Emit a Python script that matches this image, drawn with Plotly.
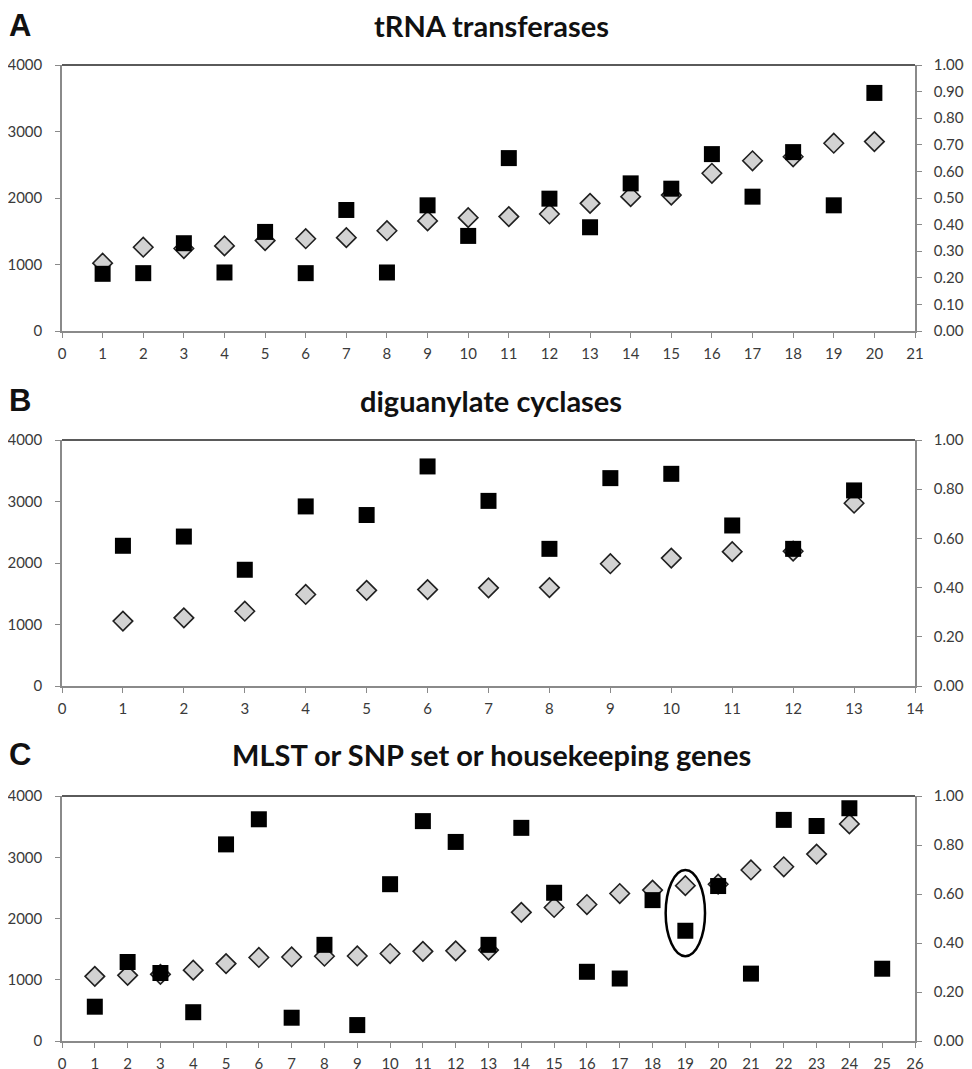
import plotly.graph_objects as go
from plotly.subplots import make_subplots

# ---- Data ----
titles = ["tRNA transferases", "diguanylate cyclases", "MLST or SNP set or housekeeping genes"]
letters = ["A", "B", "C"]

a_x = list(range(1, 21))
a_squares = [860, 870, 1320, 880, 1490, 870, 1820, 880, 1890, 1430,
             2600, 1990, 1560, 2220, 2140, 2660, 2020, 2690, 1890, 3580]
a_diamonds = [0.255, 0.315, 0.310, 0.320, 0.340, 0.347, 0.351, 0.377, 0.414, 0.426,
              0.430, 0.440, 0.480, 0.505, 0.511, 0.593, 0.640, 0.655, 0.706, 0.712]

b_x = list(range(1, 14))
b_squares = [2280, 2430, 1890, 2920, 2780, 3570, 3010, 2230, 3380, 3450, 2610, 2230, 3180]
b_diamonds = [0.264, 0.277, 0.304, 0.372, 0.389, 0.392, 0.399, 0.400, 0.497, 0.520,
              0.546, 0.548, 0.743]

c_x = list(range(1, 26))
c_squares = [560, 1290, 1110, 470, 3210, 3620, 380, 1570, 260, 2560, 3590, 3250, 1570,
             3480, 2420, 1130, 1020, 2300, 1800, 2530, 1100, 3610, 3510, 3800, 1180]
c_diamonds = [0.264, 0.268, 0.272, 0.289, 0.316, 0.341, 0.343, 0.346, 0.347, 0.357,
              0.366, 0.368, 0.371, 0.525, 0.545, 0.557, 0.602, 0.616, 0.634, 0.640,
              0.698, 0.711, 0.763, 0.886, None]

x_max = [21, 14, 26]
right_dtick = [0.1, 0.2, 0.2]
highlight_point = 19  # circled point in panel C

panels = [(a_x, a_squares, a_diamonds), (b_x, b_squares, b_diamonds), (c_x, c_squares, c_diamonds)]

# ---- Layout geometry (pixels; page body has an 8px margin) ----
OFF = 8
W, H = 972 - OFF, 1069 - OFF
ML = 62 - OFF
PLOT_RIGHT = 915 - OFF
MR = W - PLOT_RIGHT
PW = W - ML - MR
plot_tops = [65 - OFF, 440 - OFF, 796 - OFF]
plot_bottoms = [331 - OFF, 686 - OFF, 1041 - OFF]
title_y = [25 - OFF, 400 - OFF, 754 - OFF]

fig = make_subplots(rows=3, cols=1, specs=[[{"secondary_y": True}]] * 3)

AX_COLOR = "#8a8a8a"
TXT_COLOR = "#3a3a3a"
FONT = "Lato"

for i, (xs, sq, di) in enumerate(panels):
    r = i + 1
    fig.add_trace(go.Scatter(x=xs, y=di, mode="markers", showlegend=False,
                             marker=dict(symbol="diamond", size=15, color="#d2d2d2",
                                         line=dict(color="#202020", width=1.6))),
                  row=r, col=1, secondary_y=False)
    fig.add_trace(go.Scatter(x=xs, y=sq, mode="markers", showlegend=False,
                             marker=dict(symbol="square", size=16, color="#000000",
                                         line=dict(width=0))),
                  row=r, col=1, secondary_y=True)

    dom = [1 - plot_bottoms[i] / H, 1 - plot_tops[i] / H]
    xa = "xaxis" if i == 0 else f"xaxis{r}"
    ya_p = "yaxis" if i == 0 else f"yaxis{2 * i + 1}"
    ya_s = f"yaxis{2 * i + 2}"
    common = dict(showgrid=False, zeroline=False, automargin=False,
                  showline=True, linecolor=AX_COLOR, linewidth=1.5,
                  ticks="outside", ticklen=5, tickcolor=AX_COLOR, tickwidth=1.2,
                  tickfont=dict(family=FONT, size=15, color=TXT_COLOR))
    fig.layout[xa].update(range=[0, x_max[i]], dtick=1, tick0=0, ticklabelstandoff=3,
                          domain=[0, 1], **common)
    fig.layout[ya_p].update(range=[0, 1], dtick=right_dtick[i], tick0=0, tickformat=".3f",
                            side="right", ticklabelstandoff=9, domain=dom, **common)
    fig.layout[ya_s].update(range=[0, 4000], dtick=1000, tick0=0, side="left",
                            ticklabelstandoff=10, **common)

    xref_dom = "x domain" if i == 0 else f"x{r} domain"
    yref_dom = "y domain" if i == 0 else f"y{2 * i + 1} domain"
    fig.add_shape(type="line", xref=xref_dom, yref=yref_dom, x0=0, x1=1, y0=1, y1=1,
                  line=dict(color="#5a5a5a", width=2))

    fig.add_annotation(text=f"<b>{titles[i]}</b>", xref="paper", yref="paper",
                       x=(491 - OFF - ML) / PW, y=1 - title_y[i] / H,
                       xanchor="center", yanchor="middle",
                       showarrow=False, font=dict(family=FONT, size=29, color="#111111"))
    fig.add_annotation(text=f"<b>{letters[i]}</b>", xref="paper", yref="paper",
                       x=(7 - OFF - ML) / PW, y=1 - title_y[i] / H,
                       xanchor="left", yanchor="middle",
                       showarrow=False, font=dict(family="Liberation Sans", size=31, color="#111111"))

# ellipse around the highlighted point in panel C
hx = highlight_point
fig.add_shape(type="circle", xref="x3", yref="y5",
              x0=hx - 0.6, x1=hx + 0.6,
              y0=c_diamonds[hx - 1] - 0.288, y1=c_diamonds[hx - 1] + 0.064,
              line=dict(color="#000000", width=2.5))

fig.update_layout(width=W, height=H, margin=dict(l=ML, r=MR, t=0, b=0),
                  plot_bgcolor="white", paper_bgcolor="white")

fig.write_html("out.html")
